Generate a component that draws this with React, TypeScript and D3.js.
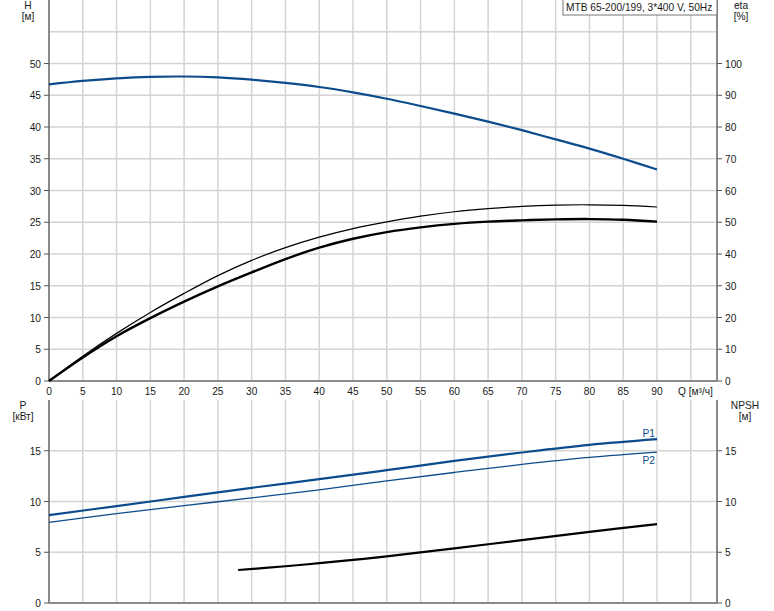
import React from "react";
import * as d3 from "d3";

const qGrid = [0, 5, 10, 15, 20, 25, 30, 35, 40, 45, 50, 55, 60, 65, 70, 75, 80, 85, 90, 95];
const qTickLabels = [0, 5, 10, 15, 20, 25, 30, 35, 40, 45, 50, 55, 60, 65, 70, 75, 80, 85, 90];
const hTicks = [0, 5, 10, 15, 20, 25, 30, 35, 40, 45, 50];
const hGrid = [5, 10, 15, 20, 25, 30, 35, 40, 45, 50, 55];
const etaTicks = [0, 10, 20, 30, 40, 50, 60, 70, 80, 90, 100];
const pTicks = [0, 5, 10, 15];
const pGrid = [5, 10, 15];

const qCurve = [0, 5, 10, 15, 20, 25, 30, 35, 40, 45, 50, 55, 60, 65, 70, 75, 80, 85, 90];
const headValues = [46.7, 47.25, 47.65, 47.9, 47.95, 47.8, 47.45, 46.95, 46.3, 45.45, 44.45, 43.3, 42.1, 40.85, 39.5, 38.05, 36.6, 35.0, 33.3];
const etaThick = [0, 7.4, 14.1, 19.8, 25.0, 29.8, 34.2, 38.4, 42.0, 44.8, 46.9, 48.4, 49.5, 50.2, 50.6, 50.9, 51.0, 50.8, 50.2];
const etaThin = [0, 7.8, 15.0, 21.6, 27.6, 33.2, 38.0, 42.0, 45.3, 48.0, 50.1, 51.9, 53.3, 54.3, 55.0, 55.4, 55.5, 55.3, 54.8];

const qPower = [0, 10, 20, 30, 40, 50, 60, 70, 80, 90];
const p1Values = [8.66, 9.55, 10.45, 11.35, 12.2, 13.09, 14.0, 14.83, 15.58, 16.14];
const p2Values = [7.94, 8.8, 9.6, 10.35, 11.15, 12.04, 12.86, 13.65, 14.34, 14.86];

const qNpsh = [28, 35, 40, 45, 50, 60, 70, 80, 90];
const npshValues = [3.25, 3.62, 3.92, 4.24, 4.6, 5.38, 6.2, 7.0, 7.78];

const legendText = "MTB 65-200/199, 3*400 V, 50Hz";

const LEFT = 49;
const RIGHT = 717;
const TOP1 = 0;
const BOT1 = 381;
const TOP2 = 400;
const BOT2 = 603;

const BLUE = "#0d4c8c";
const GRID = "#d4d4d4";
const AXIS = "#8a8a8a";
const TEXT = "#1a1a1a";
const FONT = "'Liberation Sans', Arial, sans-serif";
const FS = 10.2;

export default function App() {
  const x = d3.scaleLinear().domain([0, 90]).range([LEFT, 657]);
  const yH = d3.scaleLinear().domain([0, 60]).range([BOT1, TOP1]);
  const yEta = d3.scaleLinear().domain([0, 120]).range([BOT1, TOP1]);
  const yP = d3.scaleLinear().domain([0, 20]).range([BOT2, TOP2]);

  const mk = (qs: number[], vs: number[], ys: d3.ScaleLinear<number, number>) =>
    d3
      .line<number>()
      .x((_, i) => x(qs[i]))
      .y((v) => ys(v))
      .curve(d3.curveCatmullRom.alpha(0.5))(vs) || "";

  return (
    <svg width={774} height={611} style={{ position: "absolute", left: 0, top: 0 }} fontFamily={FONT}>
      <rect x={0} y={0} width={774} height={611} fill="#fff" />
      {qGrid.map((q) => (
        <line key={"vg1" + q} x1={x(q)} x2={x(q)} y1={TOP1} y2={BOT1} stroke={GRID} strokeWidth={1.5} />
      ))}
      {hGrid.map((h) => (
        <line key={"hg1" + h} x1={LEFT} x2={RIGHT} y1={yH(h)} y2={yH(h)} stroke={GRID} strokeWidth={1.5} />
      ))}
      {qGrid.map((q) => (
        <line key={"vg2" + q} x1={x(q)} x2={x(q)} y1={TOP2} y2={BOT2} stroke={GRID} strokeWidth={1.5} />
      ))}
      {pGrid.map((p) => (
        <line key={"hg2" + p} x1={LEFT} x2={RIGHT} y1={yP(p)} y2={yP(p)} stroke={GRID} strokeWidth={1.5} />
      ))}

      <line x1={LEFT} x2={LEFT} y1={TOP1} y2={BOT1} stroke={AXIS} strokeWidth={2} />
      <line x1={RIGHT} x2={RIGHT} y1={TOP1} y2={BOT1} stroke={AXIS} strokeWidth={2} />
      <line x1={LEFT} x2={RIGHT} y1={BOT1} y2={BOT1} stroke={AXIS} strokeWidth={2} />
      <line x1={LEFT} x2={LEFT} y1={TOP2} y2={BOT2} stroke={AXIS} strokeWidth={2} />
      <line x1={RIGHT} x2={RIGHT} y1={TOP2} y2={BOT2} stroke={AXIS} strokeWidth={2} />
      <line x1={LEFT} x2={RIGHT} y1={BOT2} y2={BOT2} stroke={AXIS} strokeWidth={2} />

      {hTicks.map((h) => (
        <g key={"ht" + h}>
          <line x1={LEFT - 5} x2={LEFT} y1={yH(h)} y2={yH(h)} stroke="#555" strokeWidth={1} />
          <text x={41} y={yH(h) + 4} textAnchor="end" fontSize={FS} fill={TEXT}>{h}</text>
        </g>
      ))}
      {etaTicks.map((e) => (
        <g key={"et" + e}>
          <line x1={RIGHT} x2={RIGHT + 5} y1={yEta(e)} y2={yEta(e)} stroke="#555" strokeWidth={1} />
          <text x={RIGHT + 8} y={yEta(e) + 4} textAnchor="start" fontSize={FS} fill={TEXT}>{e}</text>
        </g>
      ))}
      {pTicks.map((p) => (
        <g key={"pt" + p}>
          <line x1={LEFT - 5} x2={LEFT} y1={yP(p)} y2={yP(p)} stroke="#555" strokeWidth={1} />
          <text x={41} y={yP(p) + 4} textAnchor="end" fontSize={FS} fill={TEXT}>{p}</text>
          <line x1={RIGHT} x2={RIGHT + 5} y1={yP(p)} y2={yP(p)} stroke="#555" strokeWidth={1} />
          <text x={RIGHT + 8} y={yP(p) + 4} textAnchor="start" fontSize={FS} fill={TEXT}>{p}</text>
        </g>
      ))}
      {qTickLabels.map((q) => (
        <text key={"qt" + q} x={x(q)} y={395} textAnchor="middle" fontSize={FS} fill={TEXT}>{q}</text>
      ))}
      <text x={678} y={395} fontSize={FS} fill={TEXT}>Q [м³/ч]</text>

      <text x={28} y={9} textAnchor="middle" fontSize={FS} fill={TEXT}>H</text>
      <text x={28} y={20} textAnchor="middle" fontSize={FS} fill={TEXT}>[м]</text>
      <text x={741} y={9} textAnchor="middle" fontSize={FS} fill={TEXT}>eta</text>
      <text x={741} y={20} textAnchor="middle" fontSize={FS} fill={TEXT}>[%]</text>
      <text x={23} y={409} textAnchor="middle" fontSize={FS} fill={TEXT}>P</text>
      <text x={23} y={420} textAnchor="middle" fontSize={FS} fill={TEXT}>[кВт]</text>
      <text x={745} y={409} textAnchor="middle" fontSize={FS} fill={TEXT}>NPSH</text>
      <text x={745} y={420} textAnchor="middle" fontSize={FS} fill={TEXT}>[м]</text>

      <path d={mk(qCurve, headValues, yH)} fill="none" stroke={BLUE} strokeWidth={2.2} />
      <path d={mk(qCurve, etaThin, yEta)} fill="none" stroke="#000" strokeWidth={1.2} />
      <path d={mk(qCurve, etaThick, yEta)} fill="none" stroke="#000" strokeWidth={2.4} />

      <path d={mk(qPower, p1Values, yP)} fill="none" stroke={BLUE} strokeWidth={2.2} />
      <path d={mk(qPower, p2Values, yP)} fill="none" stroke={BLUE} strokeWidth={1.3} />
      <path d={mk(qNpsh, npshValues, yP)} fill="none" stroke="#000" strokeWidth={2.2} />
      <text x={655} y={437} textAnchor="end" fontSize={FS} fill={BLUE}>P1</text>
      <text x={655} y={464} textAnchor="end" fontSize={FS} fill={BLUE}>P2</text>

      <rect x={563} y={-1} width={154} height={16} fill="#fff" stroke="#777" strokeWidth={1} />
      <text x={566} y={11} fontSize={FS} fill={TEXT}>{legendText}</text>
    </svg>
  );
}
